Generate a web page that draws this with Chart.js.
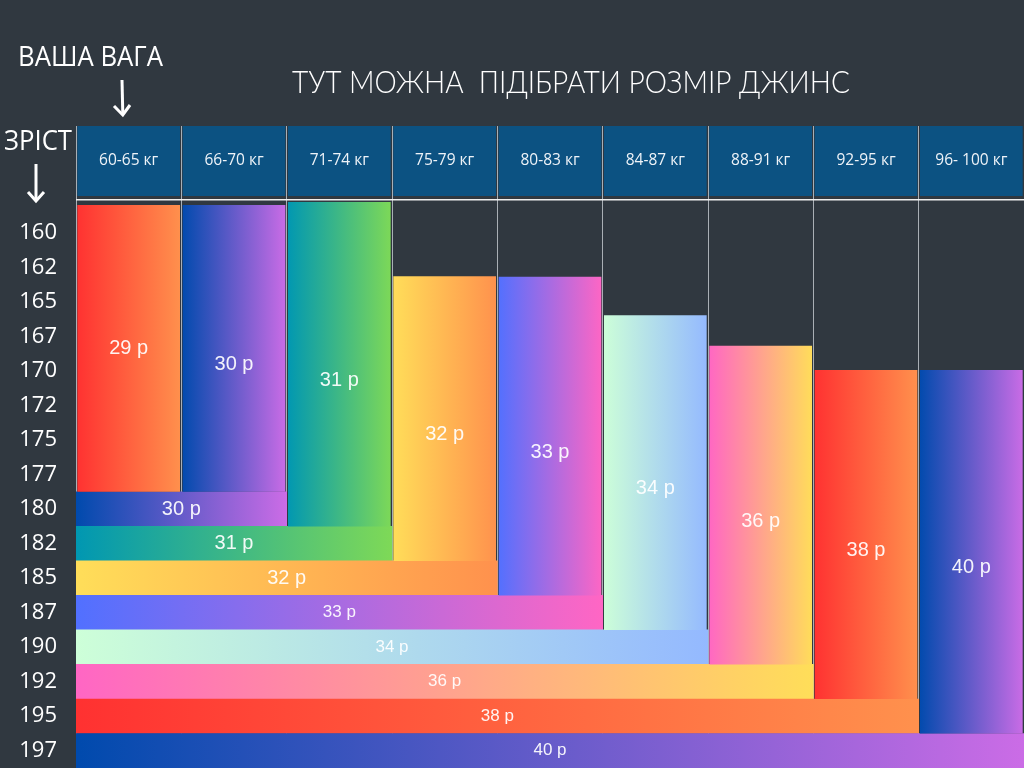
<!DOCTYPE html>
<html><head><meta charset="utf-8">
<script src="https://cdn.jsdelivr.net/npm/chart.js@4.4.1/dist/chart.umd.min.js"></script>
<style>
html,body{margin:0;padding:0;background:#303840;width:1024px;height:768px;overflow:hidden;}
#wrap{position:absolute;left:0;top:0;width:1024px;height:768px;}
.t{position:absolute;color:#fff;white-space:nowrap;transform-origin:0 0;line-height:1;}
svg{position:absolute;}
</style></head><body>
<div id="wrap"><canvas id="c"></canvas></div>
<div class="t" data-w="145" style="left:18px;top:36px;font:500 28px 'Open Sans'">ВАША ВАГА</div>
<div class="t" data-w="68" style="left:4px;top:120px;font:500 28px 'Open Sans'">ЗРІСТ</div>
<div class="t" data-w="558" style="left:292px;top:62px;font:300 31px 'Lato'">ТУТ МОЖНА&nbsp; ПІДІБРАТИ РОЗМІР ДЖИНС</div>
<svg style="left:110px;top:78px" width="24" height="40" viewBox="0 0 24 40"><path d="M12 2 L12.8 36" stroke="#fff" stroke-width="3" fill="none"/><path d="M4 28 L12.8 37 L20 27" stroke="#fff" stroke-width="3" fill="none"/></svg>
<svg style="left:24px;top:162px" width="24" height="42" viewBox="0 0 24 42"><path d="M12 2 L12 38" stroke="#fff" stroke-width="3" fill="none"/><path d="M4 30 L12 39 L20 30" stroke="#fff" stroke-width="3" fill="none"/></svg>
<script>
document.querySelectorAll('.t').forEach(el=>{
  const w = +el.dataset.w; const cur = el.getBoundingClientRect().width;
  if (cur>0) el.style.transform = 'scaleX(' + (w/cur) + ')';
});

// ---- data ----
const weights = ['60-65 кг','66-70 кг','71-74 кг','75-79 кг','80-83 кг','84-87 кг','88-91 кг','92-95 кг','96- 100 кг'];
const heights = [160,162,165,167,170,172,175,177,180,182,185,187,190,192,195,197];
const sizes = ['29 р','30 р','31 р','32 р','33 р','34 р','36 р','38 р','40 р'];
// vertical bars per weight column, in height-row units (top, bottom)
const colTop = [-0.81,-0.81,-0.90,1.25,1.27,2.38,3.27,3.97,3.97];
const colBottom = [7.5,7.5,8.5,9.5,10.5,11.5,12.5,13.5,14.5];
// horizontal bars per height row: row index, size, number of weight columns covered
const rowIndex = [8,9,10,11,12,13,14,15];
const rowSizes = ['30 р','31 р','32 р','33 р','34 р','36 р','38 р','40 р'];
const rowEnd = [2,3,4,5,6,7,8,9];
const headerRange = [-3.1,-1.07];
const topRule = -0.96;

// ---- styles ----
const sizeColors = {
  '29 р':['#FF3131','#FF914D'], '30 р':['#004AAD','#CB6CE6'], '31 р':['#0097B2','#7ED957'],
  '32 р':['#FFDE59','#FF914D'], '33 р':['#5170FF','#FF66C4'], '34 р':['#CDFFD8','#94B9FF'],
  '36 р':['#FF66C4','#FFDE59'], '38 р':['#FF3131','#FF914D'], '40 р':['#004AAD','#CB6CE6']
};
function grad(c, x0, x1, cols){
  if (!isFinite(x0) || !isFinite(x1) || x0===x1) return cols[0];
  const g = c.chart.ctx.createLinearGradient(x0,0,x1,0);
  g.addColorStop(0, cols[0]); g.addColorStop(1, cols[1]); return g;
}
const Y_MIN = -3.1, Y_MAX = 15.5;

const labelPlugin = {
  id:'barLabels',
  afterDatasetsDraw(chart){
    const ctx = chart.ctx; ctx.save();
    ctx.textAlign='center'; ctx.textBaseline='middle';
    chart.getDatasetMeta(0).data.forEach((el,i)=>{
      ctx.font = "500 15.5px 'Open Sans'"; ctx.fillStyle='#eef3f8';
      ctx.fillText(weights[i], el.x, (el.y+el.base)/2);
    });
    chart.getDatasetMeta(1).data.forEach((el,i)=>{
      ctx.font = "20px 'Liberation Sans'"; ctx.fillStyle='rgba(255,255,255,0.93)';
      ctx.fillText(sizes[i], el.x, (el.y+el.base)/2 + (i===0 ? 0 : 16));
    });
    chart.getDatasetMeta(2).data.forEach((el,k)=>{
      ctx.font = (k<3 ? "20px" : "17px") + " 'Liberation Sans'"; ctx.fillStyle='rgba(255,255,255,0.93)';
      ctx.fillText(rowSizes[k], (el.x+el.base)/2, el.y);
    });
    ctx.restore();
  }
};

new Chart(document.getElementById('c'), {
  data: {
    datasets: [
      { type:'bar', label:'header', xAxisID:'x', yAxisID:'y', grouped:false,
        data: weights.map((w,i)=>({x:i+0.5, y:headerRange})),
        backgroundColor:'#0C5282', barPercentage:0.975, categoryPercentage:1 },
      { type:'bar', label:'columns', xAxisID:'x', yAxisID:'y', grouped:false,
        data: colTop.map((t,i)=>({x:i+0.5, y:[t, colBottom[i]]})),
        backgroundColor:(c)=>{
          const i=c.dataIndex; const cols = sizeColors[sizes[i]] || ['#888','#888'];
          const sx=c.chart.scales.x;
          if(c.type!=='data' || !sx) return cols[0];
          return grad(c, sx.getPixelForValue(i), sx.getPixelForValue(i+1), cols);
        },
        barPercentage:0.975, categoryPercentage:1 },
      { type:'bar', label:'rows', indexAxis:'y', xAxisID:'x2', yAxisID:'y2', grouped:false,
        data: rowIndex.map((r,k)=>({y:r, x:[0, rowEnd[k]]})),
        backgroundColor:(c)=>{
          const k=c.dataIndex; const cols = sizeColors[rowSizes[k]] || ['#888','#888'];
          const sx=c.chart.scales.x2;
          if(c.type!=='data' || !sx) return cols[0];
          return grad(c, sx.getPixelForValue(0), sx.getPixelForValue(rowEnd[k]), cols);
        },
        barPercentage:1, categoryPercentage:1 },
      { type:'line', label:'rule', xAxisID:'x', yAxisID:'y',
        data:[{x:0,y:topRule},{x:weights.length,y:topRule}],
        borderColor:'#f0f0f0', borderWidth:1.5, pointRadius:0 }
    ]
  },
  options: {
    responsive:true, maintainAspectRatio:false, animation:false,
    layout:{ padding:{ top:126, left:0, right:0, bottom:0 } },
    plugins:{ legend:{display:false}, tooltip:{enabled:false}, title:{display:false} },
    scales:{
      x:{ type:'linear', offset:false, min:0, max:weights.length, position:'bottom',
          ticks:{ display:false, stepSize:1 },
          grid:{ color:'rgba(190,196,202,0.85)', lineWidth:1, drawTicks:false, offset:false },
          border:{ display:false },
          afterFit(s){ s.height=0; s.paddingLeft=0; s.paddingRight=0; } },
      y:{ type:'linear', offset:false, reverse:true, min:Y_MIN, max:Y_MAX, position:'left',
          afterBuildTicks(s){ s.ticks = heights.map((h,i)=>({value:i})); },
          ticks:{ autoSkip:false, color:'#ffffff', padding:19, crossAlign:'near',
                  font:{ family:'Open Sans', size:22, weight:'500' },
                  callback:(v)=>{ const i=Math.round(v); return heights[i]!==undefined ? String(heights[i]) : ''; } },
          grid:{ display:false, drawTicks:false, offset:false }, border:{ display:false },
          afterFit(s){ s.width=76; s.paddingTop=0; s.paddingBottom=0; } },
      x2:{ type:'linear', offset:false, min:0, max:weights.length, display:false },
      y2:{ type:'linear', offset:false, reverse:true, min:Y_MIN, max:Y_MAX, display:false,
           afterBuildTicks(s){ s.ticks = rowIndex.map(v=>({value:v})); } }
    }
  },
  plugins:[labelPlugin]
});
</script>
</body></html>
